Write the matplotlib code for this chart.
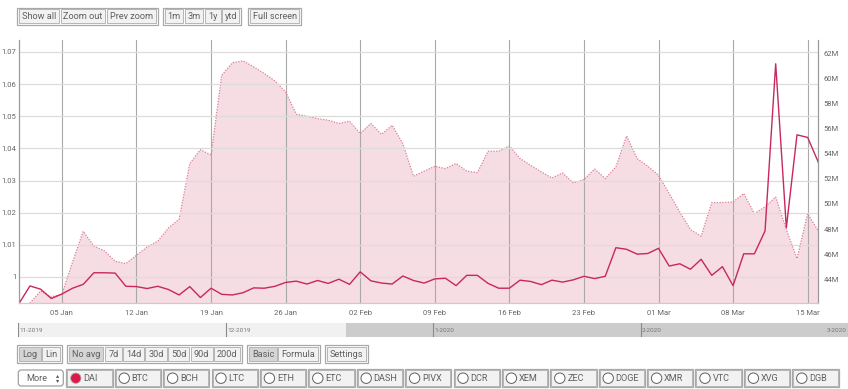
import numpy as np
import pandas as pd
import matplotlib
matplotlib.use('Agg')
import matplotlib.pyplot as plt
import matplotlib.dates as mdates
from matplotlib.patches import Rectangle, FancyBboxPatch, Circle
from matplotlib.ticker import FuncFormatter

plt.rcParams['font.family'] = ['Roboto', 'DejaVu Sans']

# daily data, 01 Jan 2020 .. 16 Mar 2020
dates = pd.date_range('2020-01-01', periods=76, freq='D')

price = [0.9919, 0.9972, 0.9962, 0.9933, 0.9947, 0.9965, 0.9977, 1.0013, 1.0013, 1.0012,
         0.9971, 0.9970, 0.9964, 0.9971, 0.9961, 0.9944, 0.9970, 0.9936, 0.9965, 0.9946,
         0.9944, 0.9951, 0.9966, 0.9965, 0.9971, 0.9983, 0.9987, 0.9978, 0.9989, 0.9980,
         0.9993, 0.9977, 1.0016, 0.9988, 0.9981, 0.9978, 1.0003, 0.9989, 0.9981, 0.9994,
         0.9996, 0.9973, 1.0005, 1.0005, 0.9980, 0.9965, 0.9965, 0.9990, 0.9986, 0.9976,
         0.9990, 0.9984, 0.9991, 1.0002, 0.9995, 1.0002, 1.0091, 1.0086, 1.0071, 1.0073,
         1.0089, 1.0034, 1.0041, 1.0024, 1.0055, 1.0005, 1.0032, 0.9973, 1.0072, 1.0072,
         1.0143, 1.0663, 1.0153, 1.0442, 1.0434, 1.0357]

# second series starts on 02 Jan (millions, right axis)
volume = [42.1, 43.07, 42.6, 42.8, 45.38, 47.82, 46.65, 46.26, 45.43, 45.25,
          45.91, 46.57, 47.03, 48.09, 48.78, 53.22, 54.33, 53.88, 60.25, 61.24,
          61.40, 60.92, 60.39, 59.80, 58.92, 57.15, 56.99, 56.80, 56.67, 56.41,
          56.59, 55.61, 56.41, 55.55, 56.27, 54.81, 52.21, 52.61, 53.00, 52.82,
          53.22, 52.61, 52.50, 54.20, 54.20, 54.62, 53.62, 53.08, 52.55, 52.07,
          52.47, 51.67, 51.94, 52.79, 52.02, 52.95, 55.42, 53.62, 53.00, 52.29,
          50.83, 49.36, 47.96, 47.43, 50.11, 50.11, 50.16, 50.83, 49.23, 49.76,
          50.56, 47.96, 45.65, 49.23, 47.85]
vol_dates = dates[1:]

left_ticks = [1.0, 1.01, 1.02, 1.03, 1.04, 1.05, 1.06, 1.07]
right_ticks = [44, 46, 48, 50, 52, 54, 56, 58, 60, 62]

nav_months = ['11-2019', '12-2019', '1-2020', '2-2020', '3-2020']
nav_sel_start = 1.58

top_buttons = [[('Show all', 18.3, 60), ('Zoom out', 60, 106), ('Prev zoom', 106, 156.7)],
               [('1m', 164, 184), ('3m', 184, 204), ('1y', 204, 221.7), ('ytd', 221.7, 240)],
               [('Full screen', 249.3, 300)]]
mid_buttons = [[('Log', 18.3, 41.7), ('Lin', 41.7, 61)],
               [('No avg', 68.3, 104), ('7d', 104, 122.7), ('14d', 122.7, 144.3), ('30d', 144.3, 167.3),
                ('50d', 167.3, 190), ('90d', 190, 213.3), ('200d', 213.3, 240.7)],
               [('Basic', 248.3, 277.7), ('Formula', 277.7, 318.3)],
               [('Settings', 326, 366.7)]]
pressed = ['Log', 'No avg', 'Basic']
coins = ['DAI', 'BTC', 'BCH', 'LTC', 'ETH', 'ETC', 'DASH', 'PIVX', 'DCR', 'XEM',
         'ZEC', 'DOGE', 'XMR', 'VTC', 'XVG', 'DGB']
active_coin = 'DAI'

W, H = 848, 389
fig = plt.figure(figsize=(W / 100, H / 100), dpi=100)

# overlay in pixel coordinates for the UI controls
ov = fig.add_axes([0, 0, 1, 1], zorder=0)
ov.set_xlim(0, W)
ov.set_ylim(H, 0)
ov.axis('off')

txtc = '#5f5f5f'
bfs = 6.6


def draw_group(group, y0, y1, fs=bfs):
    gx0, gx1 = group[0][1], group[-1][2]
    ov.add_patch(Rectangle((gx0 - 1.2, y0 - 1.2), gx1 - gx0 + 2.4, y1 - y0 + 2.4,
                           fc='white', ec='#a8a8a8', lw=0.9))
    for label, x0, x1 in group:
        fc = '#d5d5d5' if label in pressed else '#f2f2f2'
        ov.add_patch(Rectangle((x0 + 0.6, y0 + 0.6), x1 - x0 - 1.2, y1 - y0 - 1.2,
                               fc=fc, ec='#b5b5b5', lw=0.7))
        ov.text((x0 + x1) / 2, (y0 + y1) / 2 + 0.3, label, ha='center', va='center',
                fontsize=fs, color=txtc)


for g in top_buttons:
    draw_group(g, 8.7, 24)
for g in mid_buttons:
    draw_group(g, 346, 361.7)

# coin selector row
ov.add_patch(FancyBboxPatch((18.3, 370), 45, 16, boxstyle='round,pad=0,rounding_size=3',
                            fc='white', ec='#a0a0a0', lw=0.9))
ov.text(26, 378.3, 'More', ha='left', va='center', fontsize=bfs, color=txtc)
ov.text(57.5, 376, '\u25B4', ha='center', va='center', fontsize=4.5, color='#555555')
ov.text(57.5, 380.5, '\u25BE', ha='center', va='center', fontsize=4.5, color='#555555')
for i, c in enumerate(coins):
    x0 = 67.3 + i * 48.4
    ov.add_patch(Rectangle((x0 - 1, 369), 46.3, 18, fc='white', ec='#a8a8a8', lw=0.9))
    ov.add_patch(Rectangle((x0, 370), 44.3, 16, fc='#f2f2f2', ec='#b5b5b5', lw=0.7))
    if c == active_coin:
        ov.add_patch(Circle((x0 + 8.5, 378.2), 5.2, fc='#dc1a4a', ec='#b0b0b0', lw=0.6))
    else:
        ov.add_patch(Circle((x0 + 8.5, 378.2), 5.2, fc='white', ec='#606060', lw=0.7))
    ov.text(x0 + 16, 378.3, c, ha='left', va='center', fontsize=bfs, color=txtc)

# main chart: ax2 holds the filled series (right axis), ax the price line (left axis)
left, right, top, bottom = 19.3, 818.3, 40, 303
ax2 = fig.add_axes([left / W, 1 - bottom / H, (right - left) / W, (bottom - top) / H], zorder=1)
ax = ax2.twinx()
ax.set_zorder(2)
ax.patch.set_visible(False)

ax2.fill_between(vol_dates, volume, 0, color='#e8a0b2', alpha=0.36, lw=0, zorder=0.8)
ax2.plot(vol_dates, volume, color='#d9809a', lw=0.9, linestyle=(0, (1, 1.2)), zorder=2)
ax2.set_ylim(42.11, 63.06)
ax2.set_xlim(dates[0], dates[-1])

ax.plot(dates, price, color='#c8285a', lw=1.0)
ax.set_ylim(0.9919, 1.0737)
ax.set_xlim(dates[0], dates[-1])

ax.yaxis.tick_left()
ax2.yaxis.tick_right()
ax.set_yticks(left_ticks)
ax.yaxis.set_major_formatter(FuncFormatter(lambda v, p: '1' if abs(v - 1) < 1e-9 else '%g' % v))
ax2.set_yticks(right_ticks)
ax2.yaxis.set_major_formatter(FuncFormatter(lambda v, p: '%dM' % v))

ax2.xaxis.set_major_locator(mdates.WeekdayLocator(byweekday=mdates.SU))
ax2.xaxis.set_major_formatter(mdates.DateFormatter('%d %b'))

ax.grid(axis='y', color='#dcdcdc', lw=0.9)
ax.set_axisbelow(True)
ax2.grid(axis='x', color='#a9a9a9', lw=0.8)
ax2.set_axisbelow('line')

for a in (ax, ax2):
    a.tick_params(axis='both', length=0, labelsize=5.5, labelcolor='#666666')
    a.spines['top'].set_visible(False)
    a.spines['left'].set_color('#999999')
    a.spines['right'].set_color('#999999')
    a.spines['bottom'].set_color('#cccccc')
    a.spines['left'].set_linewidth(0.8)
    a.spines['right'].set_linewidth(0.8)
    a.spines['bottom'].set_linewidth(0.8)
ax.tick_params(axis='y', pad=2)
ax2.tick_params(axis='y', pad=4)
ax2.tick_params(axis='x', pad=5)

# navigator strip
nx0, nx1, ny0, ny1 = 18.3, 848, 323.3, 336.7
nav = fig.add_axes([nx0 / W, 1 - ny1 / H, (nx1 - nx0) / W, (ny1 - ny0) / H], zorder=1)
nav.set_xlim(0, len(nav_months) - 1)
nav.set_ylim(0, 1)
nav.axis('off')
nav.axvspan(0, nav_sel_start, color='#f1f1f1', lw=0)
nav.axvspan(nav_sel_start, len(nav_months) - 1, color='#cccccc', lw=0)
for i, m in enumerate(nav_months):
    nav.axvline(i, color='#8a8a8a', lw=0.8)
    if i < len(nav_months) - 1:
        nav.text(i + 0.006, 0.5, m, ha='left', va='center', fontsize=4.6, color='#777777')
    else:
        nav.text(i - 0.006, 0.5, m, ha='right', va='center', fontsize=4.6, color='#777777')

fig.savefig('out.png', dpi=100)
